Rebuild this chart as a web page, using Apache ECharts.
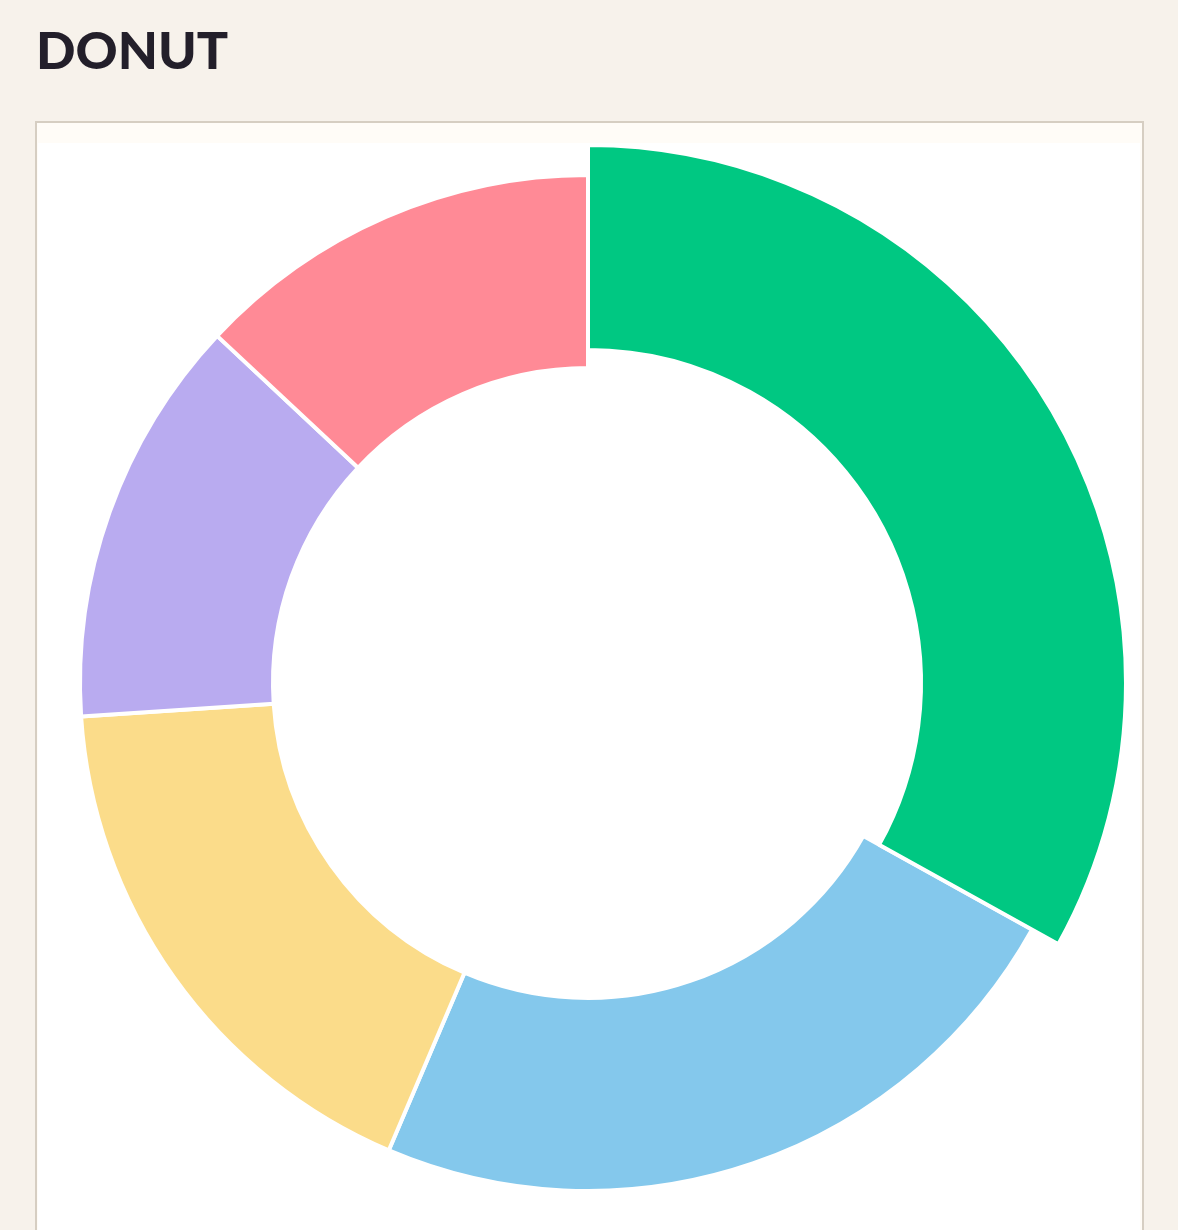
<!DOCTYPE html>
<html><head><meta charset="utf-8">
<script src="https://cdn.jsdelivr.net/npm/echarts@6/dist/echarts.min.js"></script>
<style>
html,body{margin:0;padding:0;background:#f7f2eb;width:1178px;height:1230px;overflow:hidden;font-family:Lato,"Open Sans",sans-serif;}
h1{position:absolute;left:36px;top:18px;margin:0;font-size:52px;font-weight:900;color:#231f2a;letter-spacing:0px;}
#panel{position:absolute;left:35px;top:121px;width:1105px;height:1120px;border:2px solid #d6cec2;background:#fffcf7;}
#chart{position:absolute;left:38px;top:143px;width:1102px;height:1087px;background:#fff;}
</style></head><body>
<h1>DONUT</h1>
<div id="panel"></div>
<div id="chart"></div>
<script>
const categories = ['A','B','C','D','E'];
const values = [33, 23.3, 17.5, 13, 13];
const colors = ['#00c882','#84c8ec','#fbdc8a','#b9abf0','#ff8a96'];
const highlightIndex = 0;

const chart = echarts.init(document.getElementById('chart'));
function mk(filterFn){
  return categories.map((c,i)=>({
    name:c, value:values[i],
    itemStyle:{color: filterFn(i)?colors[i]:'rgba(0,0,0,0)', borderColor: filterFn(i)?'#fff':'rgba(0,0,0,0)'}
  }));
}
const common = {type:'pie', center:[550,540], startAngle:90, clockwise:true, label:{show:false}, labelLine:{show:false}, silent:true, animation:false};
chart.setOption({
  series:[
    Object.assign({}, common, {radius:[315,508], itemStyle:{borderWidth:4}, data: mk(i=>i!==highlightIndex)}),
    Object.assign({}, common, {radius:[333,538], itemStyle:{borderWidth:4}, data: mk(i=>i===highlightIndex)})
  ]
});
</script>
</body></html>
